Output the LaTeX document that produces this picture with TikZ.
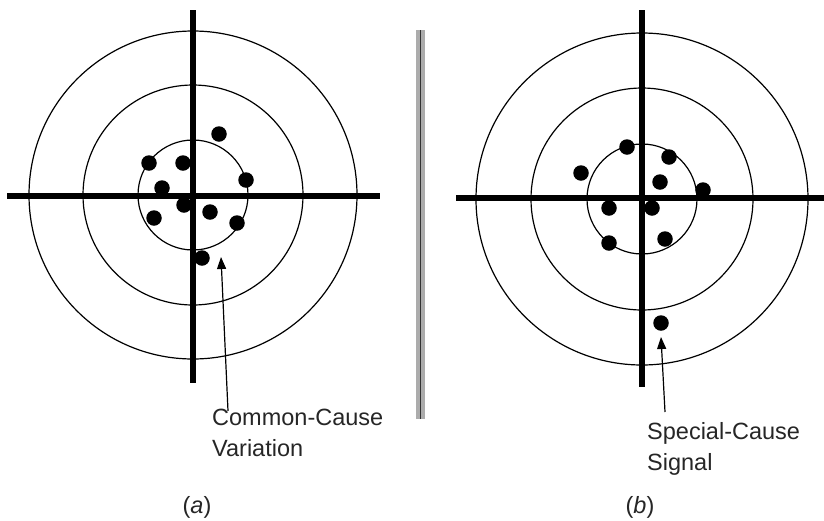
\documentclass[tikz,border=0pt]{standalone}
\usepackage{fontspec}
\setmainfont{Liberation Sans}
\usetikzlibrary{arrows.meta}
\begin{document}
\begin{tikzpicture}[x=1pt,y=-1pt,
  ring/.style={line width=1.2pt},
  crossbar/.style={line width=5.5pt},
  dot/.style={circle,fill=black,inner sep=0pt,minimum size=15.5pt},
  pointer/.style={line width=1.2pt,-{Triangle[length=12pt,width=9pt]}},
  lbl/.style={font=\fontsize{23.5}{31}\selectfont,align=left,inner sep=0pt,anchor=base west,text=black!85},
  capt/.style={font=\fontsize{23.5}{28}\selectfont,inner sep=0pt,text=black!85}]
\useasboundingbox (0,0) rectangle (824,520);
% ---------- panel (a) ----------
\coordinate (ca) at (193,195);
\foreach \r in {55,110,164} \draw[ring] (ca) circle[radius=\r];
\draw[crossbar] (193,10) -- (193,383);
\draw[crossbar] (7,196) -- (380,196);
\foreach \n/\x/\y in {a1/219/134,a2/149/163,a3/183/163,a4/246/180,a5/162/188,a6/184/205,a7/210/212,a8/154/218,a9/237/223,a10/202/258}
  \node[dot] (\n) at (\x,\y) {};
\node[lbl] (la) at (212,456) {Common-Cause\\Variation};
\coordinate (sa) at (228,411);
\coordinate (ta) at (221,257);
\draw[pointer] (sa) -- (ta);
\node[capt] (capa) at (197,507) {(\textit{a})};
% ---------- separator ----------
\fill[gray!65] (416,30) rectangle (425,419);
\draw[line width=1.2pt,black!80] (420.5,30) -- (420.5,419);
% ---------- panel (b) ----------
\coordinate (cb) at (642,199);
\foreach \r in {55,111,166} \draw[ring] (cb) circle[radius=\r];
\draw[crossbar] (642,10) -- (642,387);
\draw[crossbar] (456,198) -- (824,198);
\foreach \n/\x/\y in {b1/627/147,b2/669/157,b3/581/173,b4/660/182,b5/703/190,b6/609/208,b7/652/208,b8/609/243,b9/665/239,b10/661/323}
  \node[dot] (\n) at (\x,\y) {};
\node[lbl] (lb) at (647,470) {Special-Cause\\Signal};
\coordinate (sb) at (665,412);
\coordinate (tb) at (661,337);
\draw[pointer] (sb) -- (tb);
\node[capt] (capb) at (640,507) {(\textit{b})};
\end{tikzpicture}
\end{document}
